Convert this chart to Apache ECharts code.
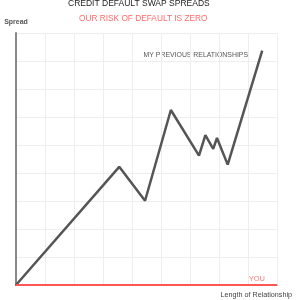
<!DOCTYPE html>
<html><head><meta charset="utf-8">
<script src="https://cdn.jsdelivr.net/npm/echarts@6/dist/echarts.min.js"></script>
<style>html,body{margin:0;padding:0;background:#fff}#c{width:300px;height:300px}</style>
</head><body><div id="c"></div>
<script>
var relX = [0, 3.56, 4.45, 5.34, 6.31, 6.53, 6.80, 6.93, 7.30, 8.49];
var relY = [0, 4.22, 3.01, 6.25, 4.62, 5.35, 4.86, 5.25, 4.30, 8.37];
var youX = [0, 9];
var youY = [0, 0];
var titleText = 'CREDIT DEFAULT SWAP SPREADS';
var subText = 'OUR RISK OF DEFAULT IS ZERO';
var relLabel = 'MY PREVIOUS RELATIONSHIPS';
var youLabel = 'YOU';
var xName = 'Length of Relationship';
var yName = 'Spread';

var chart = echarts.init(document.getElementById('c'));
var ff = 'Liberation Sans, Arial, sans-serif';
chart.setOption({
  animation: false,
  title: [
    {text: titleText, left: 68, top: -1, padding: 0, textStyle: {fontFamily: ff, fontSize: 8.5, fontWeight: 'normal', color: '#222'}},
    {text: subText, left: 79, top: 14.5, padding: 0, textStyle: {fontFamily: ff, fontSize: 8.3, fontWeight: 'normal', color: '#ff6b6b'}}
  ],
  grid: {left: 16, right: 23, top: 33, bottom: 15},
  xAxis: {type: 'value', min: 0, max: 9, interval: 1,
    axisLine: {show: true, onZero: false, lineStyle: {color: '#444', width: 1}},
    axisTick: {show: false}, axisLabel: {show: false},
    splitLine: {show: true, lineStyle: {color: '#eee', width: 1}},
    name: xName, nameLocation: 'end', nameGap: 0,
    nameTextStyle: {fontFamily: ff, fontSize: 7.2, color: '#444', align: 'right', verticalAlign: 'top', padding: [7, -15, 0, 0]}
  },
  yAxis: {type: 'value', min: 0, max: 9, interval: 1,
    axisLine: {show: true, lineStyle: {color: '#888', width: 2}},
    axisTick: {show: false}, axisLabel: {show: false},
    splitLine: {show: true, lineStyle: {color: '#eee', width: 1}},
    name: yName, nameLocation: 'end', nameGap: 7,
    nameTextStyle: {fontFamily: ff, fontSize: 7, fontWeight: 'bold', color: '#555', align: 'center'}
  },
  series: [
    {type: 'line', data: relX.map(function(x, i){return [x, relY[i]];}), symbol: 'none',
      lineStyle: {color: '#555', width: 2.5}, z: 3},
    {type: 'line', data: youX.map(function(x, i){return [x, youY[i]];}), symbol: 'none',
      lineStyle: {color: '#f55', width: 2}, z: 4}
  ],
  graphic: [
    {type: 'text', right: 52, top: 52, style: {text: relLabel, font: '6.9px Liberation Sans, Arial, sans-serif', fill: '#555'}},
    {type: 'text', right: 35, top: 275, style: {text: youLabel, font: '7.5px Liberation Sans, Arial, sans-serif', fill: '#ff7a7a'}}
  ]
});
</script></body></html>
